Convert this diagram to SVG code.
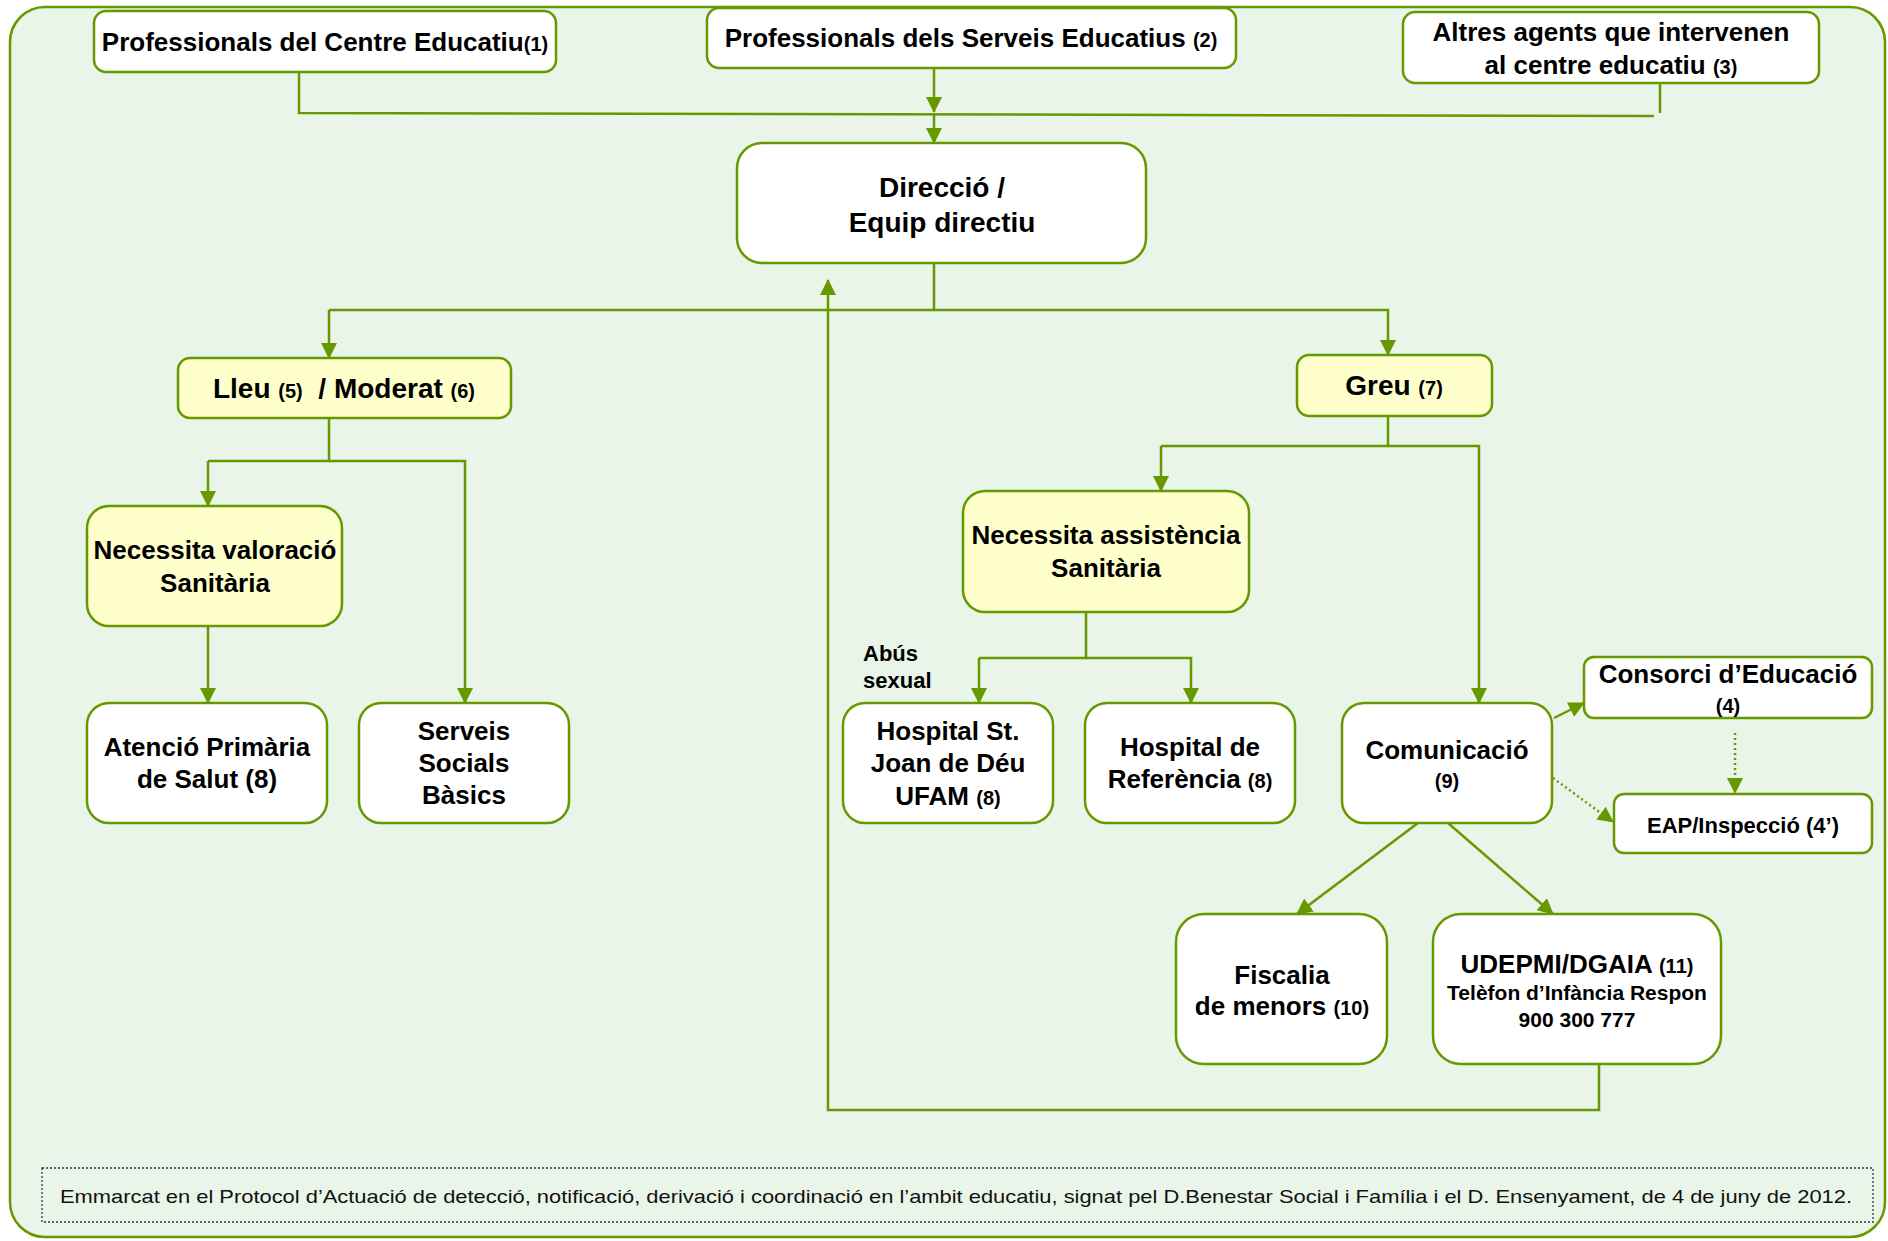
<svg xmlns="http://www.w3.org/2000/svg" width="1888" height="1241" viewBox="0 0 1888 1241">
<defs>
<marker id="ah" viewBox="0 0 16 16" refX="15" refY="8" markerWidth="16" markerHeight="16" markerUnits="userSpaceOnUse" orient="auto"><path d="M0,0 L16,8 L0,16 z" fill="#669900"/></marker>
<style>
.box{fill:#ffffff;stroke:#669900;stroke-width:2.5}
.yb{fill:#ffffcc;stroke:#669900;stroke-width:2.5}
.ln{fill:none;stroke:#669900;stroke-width:2.5}
.ar{fill:none;stroke:#669900;stroke-width:2.5;marker-end:url(#ah)}
.dt{fill:none;stroke:#669900;stroke-width:2.5;stroke-dasharray:2,3;marker-end:url(#ah)}
text{font-family:"Liberation Sans",Arial,Helvetica,sans-serif;font-weight:bold;fill:#000;text-anchor:middle}
.t26{font-size:26px}
.t28{font-size:28px}
.t22{font-size:22px}
.t21{font-size:21px}
.s{font-size:20px}
</style>
</defs>
<rect x="10" y="7" width="1875" height="1230" rx="35" fill="#e9f5e8" stroke="#669900" stroke-width="2.5"/>

<g id="connectors">
<polyline class="ln" points="299,72 299,113 1654,116"/>
<line class="ln" x1="1660" y1="83" x2="1660" y2="113"/>
<line class="ar" x1="934" y1="68" x2="934" y2="112"/>
<line class="ar" x1="934" y1="115" x2="934" y2="143"/>
<polyline class="ln" points="934,263 934,310 329,310"/>
<line class="ar" x1="329" y1="310" x2="329" y2="358"/>
<polyline class="ar" points="934,310 1388,310 1388,355"/>
<polyline class="ln" points="329,418 329,461 208,461"/>
<line class="ar" x1="208" y1="461" x2="208" y2="506"/>
<polyline class="ar" points="329,461 465,461 465,703"/>
<line class="ar" x1="208" y1="626" x2="208" y2="703"/>
<polyline class="ln" points="1388,416 1388,446 1161,446"/>
<line class="ar" x1="1161" y1="446" x2="1161" y2="491"/>
<polyline class="ar" points="1388,446 1479,446 1479,703"/>
<polyline class="ln" points="1086,612 1086,658 979,658"/>
<line class="ar" x1="979" y1="658" x2="979" y2="703"/>
<polyline class="ar" points="1086,658 1191,658 1191,703"/>
<line class="ar" x1="1554" y1="718" x2="1584" y2="703"/>
<line class="dt" x1="1553" y1="778" x2="1613" y2="822"/>
<line class="dt" x1="1735" y1="733" x2="1735" y2="793"/>
<line class="ar" x1="1418" y1="823" x2="1297" y2="914"/>
<line class="ar" x1="1448" y1="823" x2="1553" y2="914"/>
<polyline class="ar" points="1599,1064 1599,1110 828,1110 828,280"/>
</g>

<g id="n1">
<rect class="box" x="94" y="11" width="462" height="61" rx="12"/>
<text class="t26" x="325" y="51">Professionals del Centre Educatiu<tspan class="s">(1)</tspan></text>
</g>
<g id="n2">
<rect class="box" x="707" y="8" width="529" height="60" rx="12"/>
<text class="t26" x="971" y="47">Professionals dels Serveis Educatius <tspan class="s">(2)</tspan></text>
</g>
<g id="n3">
<rect class="box" x="1403" y="12" width="416" height="71" rx="12"/>
<text class="t26" x="1611" y="41">Altres agents que intervenen</text>
<text class="t26" x="1611" y="74">al centre educatiu <tspan class="s">(3)</tspan></text>
</g>
<g id="n-direccio">
<rect class="box" x="737" y="143" width="409" height="120" rx="25"/>
<text class="t28" x="942" y="197">Direcció /</text>
<text class="t28" x="942" y="232">Equip directiu</text>
</g>
<g id="n-lleu">
<rect class="yb" x="178" y="358" width="333" height="60" rx="12"/>
<text class="t28" x="344" y="398">Lleu <tspan class="s">(5)</tspan>&#160; / Moderat <tspan class="s">(6)</tspan></text>
</g>
<g id="n-greu">
<rect class="yb" x="1297" y="355" width="195" height="61" rx="12"/>
<text class="t28" x="1394" y="395">Greu <tspan class="s">(7)</tspan></text>
</g>
<g id="n-valoracio">
<rect class="yb" x="87" y="506" width="255" height="120" rx="22"/>
<text class="t26" x="215" y="559">Necessita valoració</text>
<text class="t26" x="215" y="592">Sanitària</text>
</g>
<g id="n-atencio">
<rect class="box" x="87" y="703" width="240" height="120" rx="22"/>
<text class="t26" x="207" y="756">Atenció Primària</text>
<text class="t26" x="207" y="788">de Salut (8)</text>
</g>
<g id="n-serveis">
<rect class="box" x="359" y="703" width="210" height="120" rx="22"/>
<text class="t26" x="464" y="740">Serveis</text>
<text class="t26" x="464" y="772">Socials</text>
<text class="t26" x="464" y="804">Bàsics</text>
</g>
<g id="n-assistencia">
<rect class="yb" x="963" y="491" width="286" height="121" rx="22"/>
<text class="t26" x="1106" y="544">Necessita assistència</text>
<text class="t26" x="1106" y="577">Sanitària</text>
</g>
<g id="lbl-abus">
<text class="t22" x="863" y="661" style="text-anchor:start">Abús</text>
<text class="t22" x="863" y="688" style="text-anchor:start">sexual</text>
</g>
<g id="n-hsjd">
<rect class="box" x="843" y="703" width="210" height="120" rx="22"/>
<text class="t26" x="948" y="740">Hospital St.</text>
<text class="t26" x="948" y="772">Joan de Déu</text>
<text class="t26" x="948" y="805">UFAM <tspan class="s">(8)</tspan></text>
</g>
<g id="n-href">
<rect class="box" x="1085" y="703" width="210" height="120" rx="22"/>
<text class="t26" x="1190" y="756">Hospital de</text>
<text class="t26" x="1190" y="788">Referència <tspan class="s">(8)</tspan></text>
</g>
<g id="n-comunicacio">
<rect class="box" x="1342" y="703" width="210" height="120" rx="22"/>
<text class="t26" x="1447" y="759">Comunicació</text>
<text class="s" x="1447" y="788">(9)</text>
</g>
<g id="n-consorci">
<rect class="box" x="1584" y="657" width="288" height="61" rx="10"/>
<text class="t26" x="1728" y="683">Consorci d’Educació</text>
<text class="s" x="1728" y="713">(4)</text>
</g>
<g id="n-eap">
<rect class="box" x="1614" y="794" width="258" height="59" rx="10"/>
<text class="t22" x="1743" y="833">EAP/Inspecció (4’)</text>
</g>
<g id="n-fiscalia">
<rect class="box" x="1176" y="914" width="211" height="150" rx="28"/>
<text class="t26" x="1282" y="984">Fiscalia</text>
<text class="t26" x="1282" y="1015">de menors <tspan class="s">(10)</tspan></text>
</g>
<g id="n-udepmi">
<rect class="box" x="1433" y="914" width="288" height="150" rx="28"/>
<text class="t26" x="1577" y="973">UDEPMI/DGAIA <tspan class="s">(11)</tspan></text>
<text class="t21" x="1577" y="1000">Telèfon d’Infància Respon</text>
<text class="t21" x="1577" y="1027">900 300 777</text>
</g>
<g id="footer">
<rect x="42" y="1168" width="1831" height="54" fill="none" stroke="#333333" stroke-width="1.3" stroke-dasharray="2,2"/>
<text x="60" y="1203" style="text-anchor:start;font-weight:normal;font-size:19px;fill:#111" textLength="1792" lengthAdjust="spacingAndGlyphs">Emmarcat en el Protocol d’Actuació de detecció, notificació, derivació i coordinació en l’ambit educatiu, signat pel D.Benestar Social i Família i el D. Ensenyament, de 4 de juny de 2012.</text>
</g>
</svg>
